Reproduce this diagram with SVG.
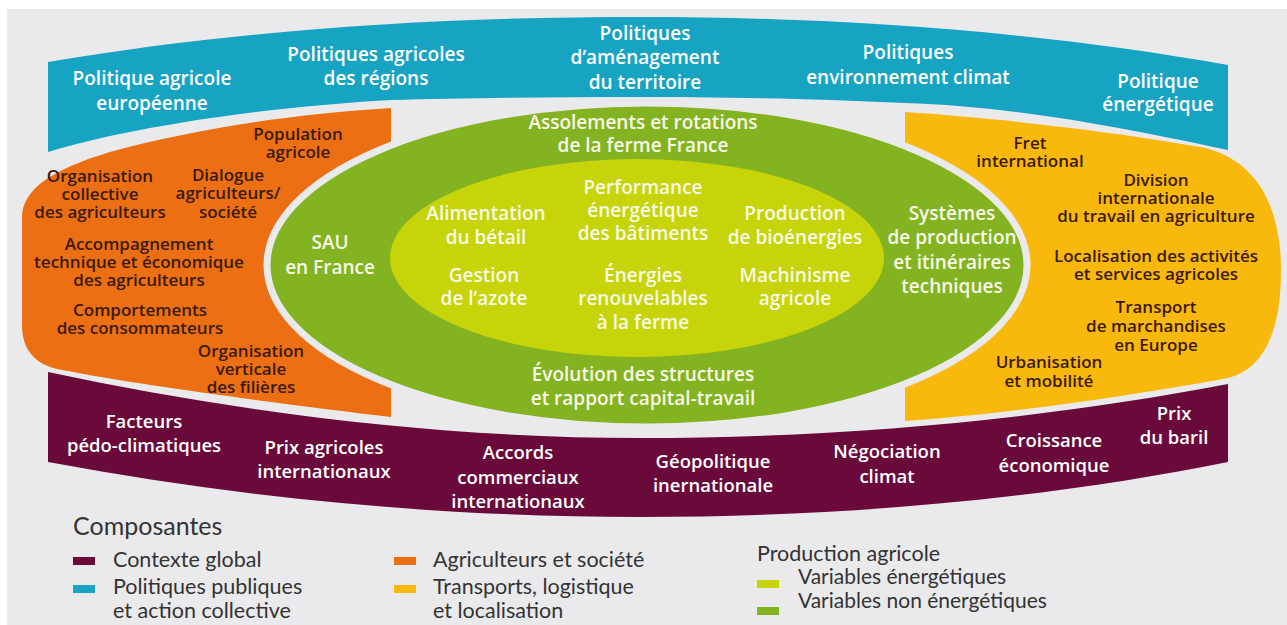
<svg xmlns="http://www.w3.org/2000/svg" width="1287" height="625" viewBox="0 0 1287 625">
<style>
.t{font-family:"Open Sans","Noto Sans","DejaVu Sans",sans-serif;font-weight:600;text-anchor:middle}
.w{fill:#ffffff}
.gw{fill:#f7f9e8}
.dk{fill:#3a1a06}
.f19{font-size:19px}
.f18{font-size:18.5px}
.f17{font-size:17px}
.lg{font-family:Lato,"Open Sans",sans-serif;fill:#333333}
</style>
<rect x="0" y="0" width="1287" height="625" fill="#ffffff"/>
<rect x="7" y="9" width="1280" height="616" fill="#eaeaec"/>

<g id="politiques-publiques">
<path d="M48,62 C250,28 450,17 640,17 C850,17 1050,33 1228,65 L1228,150 C1100,122 1000,106 905,103 C800,98 700,97 640,97 C550,97 460,98 391,100 C250,108 120,130 48,152 Z" fill="#17a3c2"/>
<text class="t w f19" x="152" y="85">Politique agricole<tspan x="152" dy="25">européenne</tspan></text>
<text class="t w f19" x="376" y="61">Politiques agricoles<tspan x="376" dy="24">des régions</tspan></text>
<text class="t w f19" x="645" y="40">Politiques<tspan x="645" dy="24">d’aménagement</tspan><tspan x="645" dy="25">du territoire</tspan></text>
<text class="t w f19" x="908" y="59">Politiques<tspan x="908" dy="25">environnement climat</tspan></text>
<text class="t w f19" x="1158" y="88">Politique<tspan x="1158" dy="23">énergétique</tspan></text>
</g>

<g id="agriculteurs-societe">
<path d="M391,108 L391,417 C300,406 150,387 62,370 C35,365 22,350 22,325 L22,218 C22,190 50,170 110,152 C190,130 290,114 391,108 Z" fill="#ec6f13"/>
</g>

<g id="transports-logistique">
<path d="M905,112 C1000,118 1130,134 1205,148 C1262,162 1281,215 1281,270 C1281,330 1265,368 1228,378 C1120,398 1000,414 905,421 Z" fill="#f9b80c"/>
</g>

<g id="contexte-global">
<path d="M48,372 C250,415 450,438 640,438 C850,438 1050,418 1228,384 L1228,462 C1050,498 850,517 640,517 C450,517 250,500 48,462 Z" fill="#6a0a3a"/>
<text class="t w f18" x="144" y="428">Facteurs<tspan x="144" dy="24">pédo-climatiques</tspan></text>
<text class="t w f18" x="324" y="454">Prix agricoles<tspan x="324" dy="24">internationaux</tspan></text>
<text class="t w f18" x="518" y="459">Accords<tspan x="518" dy="25">commerciaux</tspan><tspan x="518" dy="24">internationaux</tspan></text>
<text class="t w f18" x="713" y="468">Géopolitique<tspan x="713" dy="24">inernationale</tspan></text>
<text class="t w f18" x="887" y="458">Négociation<tspan x="887" dy="25">climat</tspan></text>
<text class="t w f18" x="1054" y="447">Croissance<tspan x="1054" dy="25">économique</tspan></text>
<text class="t w f18" x="1174" y="420">Prix<tspan x="1174" dy="24">du baril</tspan></text>
</g>

<g id="variables-non-energetiques">
<ellipse cx="647" cy="265" rx="380" ry="162" fill="#84b322" stroke="#eaeaec" stroke-width="7"/>
<text class="t gw f19" x="643" y="129">Assolements et rotations<tspan x="643" dy="23">de la ferme France</tspan></text>
<text class="t gw f19" x="330" y="249">SAU<tspan x="330" dy="25">en France</tspan></text>
<text class="t gw f19" x="952" y="220">Systèmes<tspan x="952" dy="24">de production</tspan><tspan x="952" dy="25">et itinéraires</tspan><tspan x="952" dy="24">techniques</tspan></text>
<text class="t gw f19" x="643" y="381">Évolution des structures<tspan x="643" dy="24">et rapport capital-travail</tspan></text>
</g>

<g id="variables-energetiques">
<ellipse cx="637" cy="258" rx="247" ry="99" fill="#c8d40a"/>
<text class="t gw f19" x="486" y="220">Alimentation<tspan x="486" dy="24">du bétail</tspan></text>
<text class="t gw f19" x="643" y="194">Performance<tspan x="643" dy="23">énergétique</tspan><tspan x="643" dy="23">des bâtiments</tspan></text>
<text class="t gw f19" x="795" y="220">Production<tspan x="795" dy="24">de bioénergies</tspan></text>
<text class="t gw f19" x="484" y="282">Gestion<tspan x="484" dy="23">de l’azote</tspan></text>
<text class="t gw f19" x="643" y="282">Énergies<tspan x="643" dy="23">renouvelables</tspan><tspan x="643" dy="24">à la ferme</tspan></text>
<text class="t gw f19" x="795" y="282">Machinisme<tspan x="795" dy="23">agricole</tspan></text>
</g>

<g id="agriculteurs-textes">
<text class="t dk f17" x="298" y="140">Population<tspan x="298" dy="18">agricole</tspan></text>
<text class="t dk f17" x="100" y="182">Organisation<tspan x="100" dy="18">collective</tspan><tspan x="100" dy="18">des agriculteurs</tspan></text>
<text class="t dk f17" x="228" y="181">Dialogue<tspan x="228" dy="18">agriculteurs/</tspan><tspan x="228" dy="19">société</tspan></text>
<text class="t dk f17" x="139" y="250">Accompagnement<tspan x="139" dy="18">technique et économique</tspan><tspan x="139" dy="18">des agriculteurs</tspan></text>
<text class="t dk f17" x="140" y="316">Comportements<tspan x="140" dy="18">des consommateurs</tspan></text>
<text class="t dk f17" x="251" y="357">Organisation<tspan x="251" dy="18">verticale</tspan><tspan x="251" dy="18">des filières</tspan></text>
</g>

<g id="transports-textes">
<text class="t dk f17" x="1030" y="149">Fret<tspan x="1030" dy="18">international</tspan></text>
<text class="t dk f17" x="1156" y="186">Division<tspan x="1156" dy="18">internationale</tspan><tspan x="1156" dy="18">du travail en agriculture</tspan></text>
<text class="t dk f17" x="1156" y="262">Localisation des activités<tspan x="1156" dy="18">et services agricoles</tspan></text>
<text class="t dk f17" x="1156" y="313">Transport<tspan x="1156" dy="19">de marchandises</tspan><tspan x="1156" dy="19">en Europe</tspan></text>
<text class="t dk f17" x="1049" y="368">Urbanisation<tspan x="1049" dy="19">et mobilité</tspan></text>
</g>

<g id="connectors"></g>

<g id="legende">
<text class="lg" x="73" y="535" font-size="25">Composantes</text>
<rect x="73" y="557" width="22" height="8" fill="#6a0a3a"/>
<text class="lg" x="113" y="567" font-size="21.5">Contexte global</text>
<rect x="73" y="585" width="22" height="8" fill="#17a3c2"/>
<text class="lg" x="113" y="594" font-size="21.5">Politiques publiques<tspan x="113" dy="24">et action collective</tspan></text>
<rect x="394" y="557" width="22" height="8" fill="#ec6f13"/>
<text class="lg" x="433" y="567" font-size="21.5">Agriculteurs et société</text>
<rect x="394" y="585" width="22" height="8" fill="#f9b80c"/>
<text class="lg" x="433" y="594" font-size="21.5">Transports, logistique<tspan x="433" dy="24">et localisation</tspan></text>
<text class="lg" x="757" y="561" font-size="21.5" fill="#222222">Production agricole</text>
<rect x="757" y="580" width="22" height="8" fill="#c8d40a"/>
<text class="lg" x="798" y="584" font-size="21" fill="#444444">Variables énergétiques</text>
<rect x="757" y="607" width="22" height="8" fill="#84b322"/>
<text class="lg" x="798" y="608" font-size="21" fill="#444444">Variables non énergétiques</text>
</g>
</svg>
